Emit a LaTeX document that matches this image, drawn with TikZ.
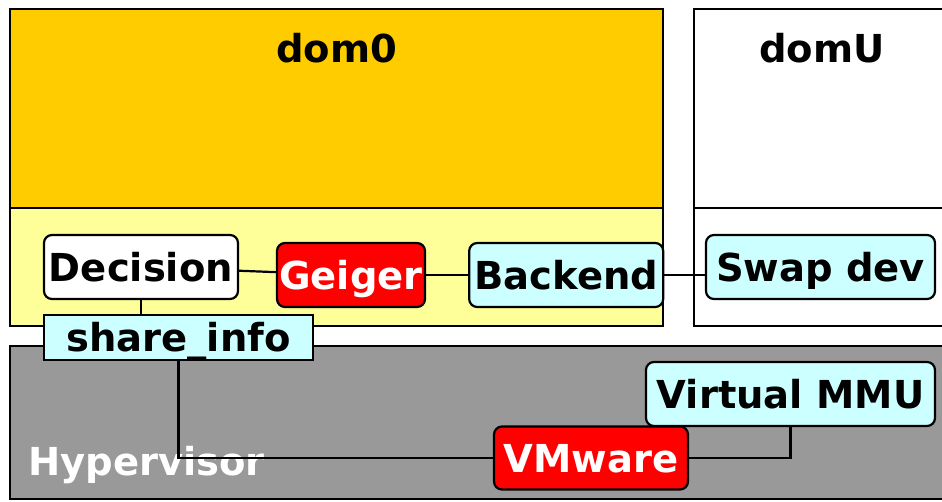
\documentclass[tikz,border=0pt]{standalone}
\usepackage{fontspec}
\setmainfont{DejaVu Sans}
\usepackage{tikz}
\usetikzlibrary{positioning}
\definecolor{domzero}{HTML}{FFCC00}
\definecolor{domlow}{HTML}{FFFF99}
\definecolor{paleblue}{HTML}{CCFFFF}
\definecolor{hypergray}{HTML}{999999}

\begin{document}
\begin{tikzpicture}[x=1pt, y=-1pt,
  area/.style={draw, line width=2.2pt},
  comp/.style={draw, line width=2.2pt, rounded corners=8pt, minimum height=64pt,
               inner sep=0pt, text height=28pt, text depth=0pt,
               font=\fontsize{38.5}{42}\selectfont\bfseries},
  hot/.style={comp, fill=red, text=white},
  cool/.style={comp, fill=paleblue},
  title/.style={font=\fontsize{38.5}{42}\selectfont\bfseries},
  link/.style={line width=2.2pt},
]
  \clip (0,0) rectangle (942,501);
  % domains
  \fill[domzero] (10,9) rectangle (663,208);
  \fill[domlow] (10,208) rectangle (663,326);
  \draw[area] (10,9) rectangle (663,326);
  \draw[area] (10,208) -- (663,208);
  \draw[area, fill=white] (694,9) rectangle (960,326);
  \draw[area] (694,208) -- (960,208);
  \draw[area, fill=hypergray] (10,346) rectangle (960,499);

  \node[title, anchor=base] (dom0) at (336.5,62) {dom0};
  \node[title, anchor=base] (domU) at (822,62) {domU};
  \node[title, text=white, anchor=base west, inner sep=0pt] (hyper) at (28,475) {Hypervisor};

  % components
  \node[comp, fill=white, minimum width=194pt] (decision) at (141,267) {Decision};
  \node[hot, minimum width=148pt] (geiger) at (351,275) {Geiger};
  \node[cool, minimum width=194pt, right=42pt of geiger] (backend) {Backend};
  \node[cool, minimum width=229pt] (swapdev) at (820.5,267) {Swap dev};
  \node[cool, rounded corners=0pt, minimum width=269pt, minimum height=45pt,
        below=14pt of decision.south west, anchor=north west] (share) {share\_info};
  \node[cool, minimum width=289pt] (vmmu) at (790.5,394) {Virtual MMU};
  \node[hot, minimum width=194pt, minimum height=63pt] (vmware) at (591,458) {VMware};

  \draw[link] (decision) -- (geiger);
  \draw[link] (geiger) -- (backend);
  \draw[link] (backend.east) -- (backend.east -| swapdev.west);
  \draw[link] (decision.south) -- (decision.south |- share.north);
  \draw[link] (share.south) |- (vmware.west);
  \draw[link] (vmware.east) -| (vmmu.south);
\end{tikzpicture}
\end{document}
